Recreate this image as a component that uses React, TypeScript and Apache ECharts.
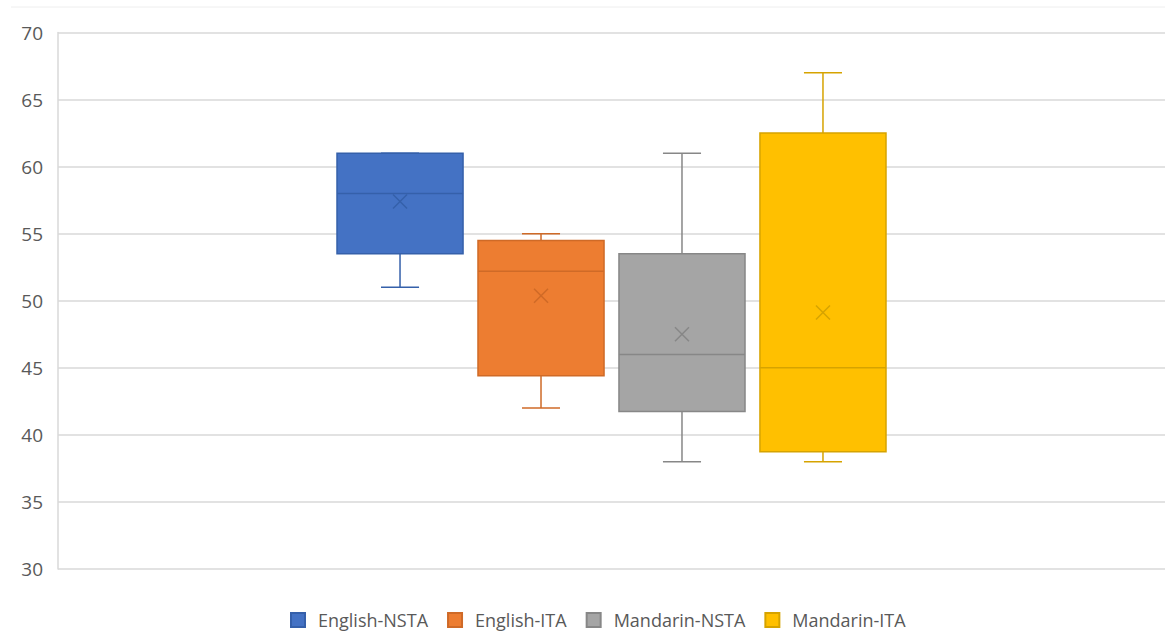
import React, { useEffect, useRef } from "react";
import * as echarts from "echarts";

const categories = ["English-NSTA", "English-ITA", "Mandarin-NSTA", "Mandarin-ITA"];
const minVals = [51, 42, 38, 38];
const q1Vals = [53.5, 44.4, 41.75, 38.75];
const medianVals = [58, 52.2, 46, 45];
const q3Vals = [61, 54.5, 53.5, 62.5];
const maxVals = [61, 55, 61, 67];
const meanVals = [57.4, 50.37, 47.5, 49.13];
const yTicks = [30, 35, 40, 45, 50, 55, 60, 65, 70];

const fillColors = ["#4472C4", "#ED7D31", "#A5A5A5", "#FFC000"];
const lineColors = ["#3560AA", "#CF6A27", "#878787", "#D6A300"];

const FONT = "'Open Sans', 'Noto Sans', sans-serif";
const BOX_W = 0.894;
const CAP_W = 0.27;

export default function App() {
  const ref = useRef<HTMLDivElement>(null);
  useEffect(() => {
    if (!ref.current) return;
    const chart = echarts.init(ref.current, null, { renderer: "svg" });

    const series = categories.map((name, i) => ({
      name,
      type: "custom",
      itemStyle: { color: fillColors[i], borderColor: lineColors[i], borderWidth: 1 },
      data: [[i + 1, minVals[i], q1Vals[i], medianVals[i], q3Vals[i], maxVals[i], meanVals[i]]],
      encode: { x: 0, y: [1, 2, 3, 4, 5, 6] },
      renderItem: (params: any, api: any) => {
        const x = api.value(0);
        const pMin = api.coord([x, api.value(1)]);
        const pQ1 = api.coord([x, api.value(2)]);
        const pMed = api.coord([x, api.value(3)]);
        const pQ3 = api.coord([x, api.value(4)]);
        const pMax = api.coord([x, api.value(5)]);
        const pMean = api.coord([x, api.value(6)]);
        const bw = api.size([BOX_W, 0])[0];
        const cw = api.size([CAP_W, 0])[0];
        const cx = pMed[0];
        const lc = lineColors[i];
        const ls = { stroke: lc, lineWidth: 1.5 };
        const cr = 7;
        return {
          type: "group",
          children: [
            { type: "line", shape: { x1: cx, y1: pMax[1], x2: cx, y2: pQ3[1] }, style: ls },
            { type: "line", shape: { x1: cx, y1: pQ1[1], x2: cx, y2: pMin[1] }, style: ls },
            { type: "line", shape: { x1: cx - cw / 2, y1: pMax[1], x2: cx + cw / 2, y2: pMax[1] }, style: ls },
            { type: "line", shape: { x1: cx - cw / 2, y1: pMin[1], x2: cx + cw / 2, y2: pMin[1] }, style: ls },
            {
              type: "rect",
              shape: { x: cx - bw / 2, y: pQ3[1], width: bw, height: pQ1[1] - pQ3[1] },
              style: { fill: fillColors[i], stroke: lc, lineWidth: 1.5 },
            },
            { type: "line", shape: { x1: cx - bw / 2, y1: pMed[1], x2: cx + bw / 2, y2: pMed[1] }, style: ls },
            { type: "line", shape: { x1: pMean[0] - cr, y1: pMean[1] - cr, x2: pMean[0] + cr, y2: pMean[1] + cr }, style: ls },
            { type: "line", shape: { x1: pMean[0] - cr, y1: pMean[1] + cr, x2: pMean[0] + cr, y2: pMean[1] - cr }, style: ls },
          ],
        };
      },
    }));

    chart.setOption({
      animation: false,
      backgroundColor: "#ffffff",
      grid: { left: 58, right: 0, top: 32.5, bottom: 62, containLabel: false },
      xAxis: {
        type: "value",
        min: -1.426,
        max: 6.426,
        show: false,
        splitLine: { show: false },
      },
      yAxis: {
        type: "value",
        min: yTicks[0],
        max: yTicks[yTicks.length - 1],
        interval: 5,
        axisLine: { show: true, onZero: false, lineStyle: { color: "#D9D9D9", width: 1.5 } },
        axisTick: { show: false },
        axisLabel: { color: "#595959", fontSize: 19, fontFamily: FONT, margin: 15 },
        splitLine: { show: true, lineStyle: { color: "#D9D9D9", width: 1.5 } },
      },
      legend: {
        data: categories,
        top: 611,
        left: 290,
        padding: 0,
        icon: "rect",
        itemWidth: 14,
        itemHeight: 14,
        itemGap: 19,
        textStyle: { color: "#595959", fontSize: 18, fontFamily: FONT, padding: [0, 0, 0, 8] },
      },
      graphic: [
        {
          type: "line",
          shape: { x1: 11, y1: 7, x2: 1165, y2: 7 },
          style: { stroke: "#EEEEEE", lineWidth: 1 },
          silent: true,
        },
      ],
      series,
    });
    return () => chart.dispose();
  }, []);
  return (
    <div
      ref={ref}
      style={{ position: "absolute", left: 0, top: 0, width: 1165, height: 631 }}
    />
  );
}
